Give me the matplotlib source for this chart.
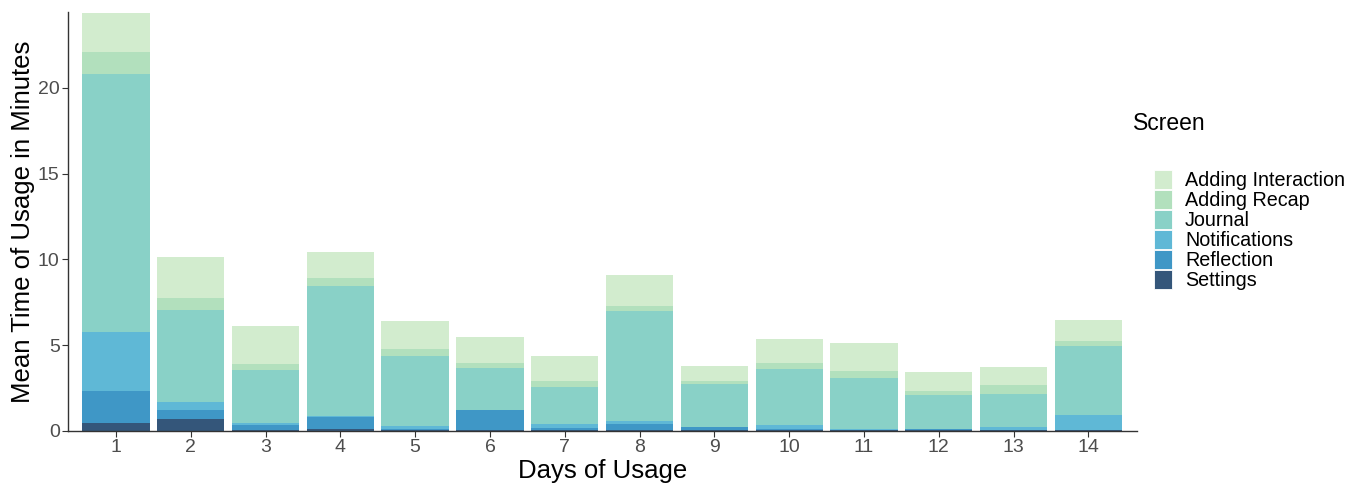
import matplotlib.pyplot as plt
import numpy as np

plt.rcParams['font.family'] = ['Liberation Sans', 'DejaVu Sans']

days = list(range(1, 15))
screens = ['Settings', 'Reflection', 'Notifications', 'Journal', 'Adding Recap', 'Adding Interaction']
colors = ['#34567a', '#3f97c6', '#5fb8d6', '#89d1c7', '#b2e0bd', '#d2ecce']

settings      = [0.45, 0.70, 0.05, 0.10, 0.03, 0.06, 0.05, 0.03, 0.05, 0.03, 0.03, 0.05, 0.03, 0.03]
reflection    = [1.89, 0.52, 0.30, 0.73, 0.07, 1.14, 0.12, 0.38, 0.16, 0.09, 0.04, 0.06, 0.05, 0.03]
notifications = [3.42, 0.47, 0.12, 0.05, 0.19, 0.02, 0.24, 0.17, 0.02, 0.23, 0.05, 0.02, 0.15, 0.87]
journal       = [15.05, 5.34, 3.08, 7.56, 4.09, 2.46, 2.15, 6.40, 2.50, 3.25, 2.96, 1.96, 1.92, 4.01]
adding_recap  = [1.28, 0.70, 0.36, 0.47, 0.39, 0.27, 0.35, 0.29, 0.18, 0.35, 0.41, 0.24, 0.52, 0.29]
adding_inter  = [2.27, 2.39, 2.19, 1.51, 1.63, 1.52, 1.45, 1.80, 0.87, 1.40, 1.63, 1.10, 1.05, 1.22]

series = [settings, reflection, notifications, journal, adding_recap, adding_inter]

fig = plt.figure(figsize=(13.64, 4.87), dpi=100)
ax = fig.add_axes([0.0499, 0.115, 0.7837, 0.86])

bottom = np.zeros(len(days))
handles = []
for name, vals, col in zip(screens, series, colors):
    b = ax.bar(days, vals, width=0.9, bottom=bottom, color=col, label=name, linewidth=0)
    handles.append(b)
    bottom += np.array(vals)

ax.set_xlim(0.36, 14.65)
ax.set_ylim(0, 24.4)
ax.set_xticks(days)
ax.set_yticks([0, 5, 10, 15, 20])
ax.tick_params(axis='both', labelsize=14, colors='#333333', labelcolor='#4d4d4d', length=4, width=0.8, pad=2)

for s in ['top', 'right']:
    ax.spines[s].set_visible(False)
for s in ['left', 'bottom']:
    ax.spines[s].set_color('#333333')
    ax.spines[s].set_linewidth(1.0)

ax.set_xlabel('Days of Usage', fontsize=18.5, labelpad=2)
ax.set_ylabel('Mean Time of Usage in Minutes', fontsize=18.5, labelpad=2)

fig.text(1133 / 1364, 1 - 123 / 487, 'Screen', fontsize=16.5, va='center', ha='left')
leg = fig.legend(handles[::-1], screens[::-1], loc='upper left',
                 bbox_to_anchor=(1150 / 1364, 1 - 166 / 487), frameon=False,
                 fontsize=14.2, labelspacing=0, handlelength=0.92, handleheight=1.08,
                 handletextpad=0.65, borderpad=0.2, borderaxespad=0)
for p in leg.get_patches():
    p.set_edgecolor('white')
    p.set_linewidth(0.6)

fig.savefig('out.png', dpi=100)
